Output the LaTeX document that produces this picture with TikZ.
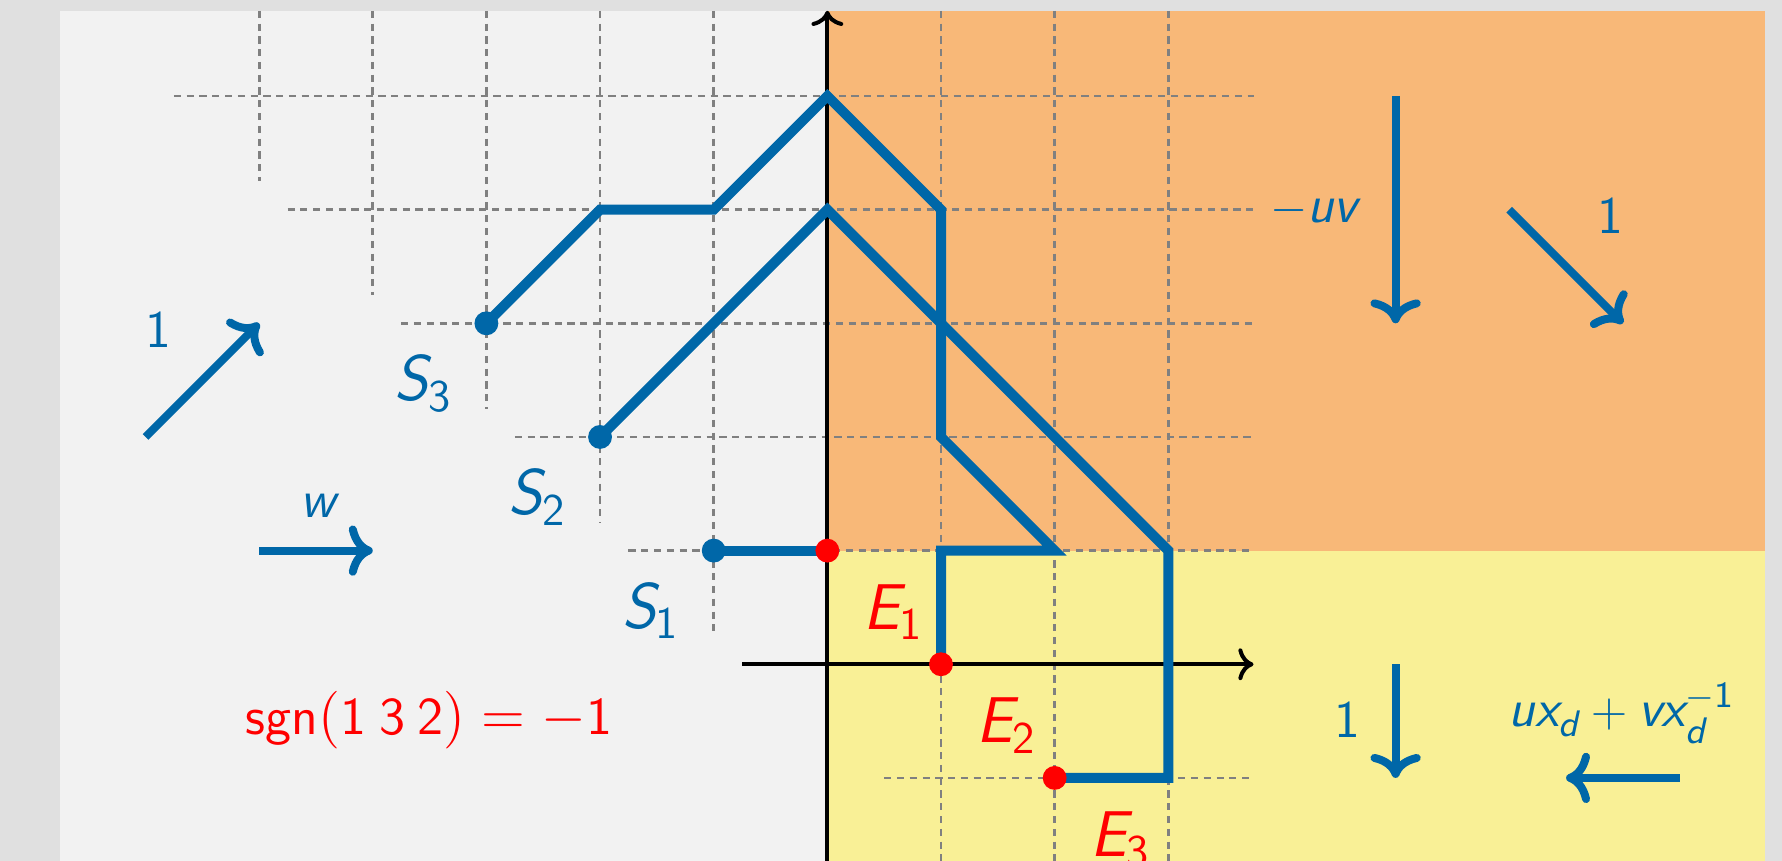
\documentclass[tikz,border=0pt]{standalone}
\usepackage{amsmath}
\usetikzlibrary{arrows.meta}
\definecolor{outerbg}{HTML}{E0E0E0}
\definecolor{panelbg}{HTML}{F2F2F2}
\definecolor{orangebg}{HTML}{F8B878}
\definecolor{yellowbg}{HTML}{F9F096}
\definecolor{pathblue}{HTML}{0067A8}
\definecolor{gridgray}{HTML}{808080}
\newcommand{\vi}[1]{\textsf{\itshape #1}}
\newcommand{\vu}[1]{\textsf{#1}}
\tikzset{
  gridline/.style={gridgray, line width=0.7pt, dash pattern=on 1.8pt off 1.4pt},
  axisline/.style={black, line width=1pt, -{Computer Modern Rightarrow[scale=1.0]}},
  lattice/.style={pathblue, line width=2.5pt, line join=miter},
  legendarrow/.style={pathblue, line width=2pt, -{Computer Modern Rightarrow[scale=1.0]}},
  startdot/.style={circle, fill=pathblue, inner sep=0pt, minimum size=0.21cm},
  enddot/.style={circle, fill=red, inner sep=0pt, minimum size=0.21cm},
  biglabel/.style={text=pathblue, font=\fontsize{16.2}{19}\selectfont, inner sep=0pt},
  redlabel/.style={text=red, font=\fontsize{16.2}{19}\selectfont, inner sep=0pt},
  smalllabel/.style={text=pathblue, font=\fontsize{13.2}{16}\selectfont, inner sep=0pt},
  sgnlabel/.style={text=red, font=\fontsize{13.3}{16}\selectfont, inner sep=0pt},
}
\begin{document}
\begin{tikzpicture}
\useasboundingbox (-7.28,-1.73) rectangle (8.40,5.845);
% backgrounds
\fill[outerbg] (-7.28,-1.73) rectangle (8.40,5.845);
\fill[panelbg] (-6.75,-1.8) rectangle (8.25,5.75);
\fill[orangebg] (0,1) rectangle (8.25,5.75);
\fill[yellowbg] (0,-1.8) rectangle (8.25,1);
% grid
\foreach \k in {1,...,5} \draw[gridline] ({-\k-0.75},\k) -- (3.75,\k);
\draw[gridline] (0.5,-1) -- (3.75,-1);
\foreach \k in {1,...,5} \draw[gridline] (-\k,5.75) -- (-\k,{\k-0.75});
\foreach \k in {1,2,3} \draw[gridline] (\k,5.75) -- (\k,-1.8);
% axes
\coordinate (ybot) at (0,-1.8);
\coordinate (ytop) at (0,5.75);
\coordinate (xl) at (-0.75,0);
\coordinate (xr) at (3.75,0);
\draw[axisline] (ybot) -- (ytop);
\draw[axisline] (xl) -- (xr);
% lattice path points
\coordinate (p1) at (-1,1);
\coordinate (p2) at (-2,2);
\coordinate (p3) at (-3,3);
\coordinate (q1) at (0,1);
\coordinate (q2) at (1,0);
\coordinate (q3) at (2,-1);
\draw[lattice] (p3) -- (-2,4) -- (-1,4) -- (0,5) -- (1,4) -- (1,2) -- (2,1) -- (1,1) -- (q2);
\draw[lattice] (p2) -- (0,4) -- (3,1) -- (3,-1) -- (q3);
\draw[lattice] (p1) -- (q1);
% dots
\node[startdot] (s1) at (p1) {};
\node[startdot] (s2) at (p2) {};
\node[startdot] (s3) at (p3) {};
\node[enddot] (e1) at (q1) {};
\node[enddot] (e2) at (q2) {};
\node[enddot] (e3) at (q3) {};
% path labels
\node[biglabel] (ls1) at (-1.55,0.47) {$\vi{S}_{\vu{1}}$};
\node[biglabel] (ls2) at (-2.55,1.47) {$\vi{S}_{\vu{2}}$};
\node[biglabel] (ls3) at (-3.55,2.47) {$\vi{S}_{\vu{3}}$};
\node[redlabel] (le1) at (0.58,0.46) {$\vi{E}_{\vu{1}}$};
\node[redlabel] (le2) at (1.58,-0.54) {$\vi{E}_{\vu{2}}$};
\node[redlabel] (le3) at (2.58,-1.54) {$\vi{E}_{\vu{3}}$};
% legend arrows
\coordinate (a1s) at (-6,2);   \coordinate (a1e) at (-5,3);
\coordinate (a2s) at (-5,1);   \coordinate (a2e) at (-4,1);
\coordinate (a3s) at (5,5);    \coordinate (a3e) at (5,3);
\coordinate (a4s) at (6,4);    \coordinate (a4e) at (7,3);
\coordinate (a5s) at (5,0);    \coordinate (a5e) at (5,-1);
\coordinate (a6s) at (7.5,-1); \coordinate (a6e) at (6.5,-1);
\draw[legendarrow] (a1s) -- (a1e);
\draw[legendarrow] (a2s) -- (a2e);
\draw[legendarrow] (a3s) -- (a3e);
\draw[legendarrow] (a4s) -- (a4e);
\draw[legendarrow] (a5s) -- (a5e);
\draw[legendarrow] (a6s) -- (a6e);
\node[smalllabel] (w1) at (-5.89,2.94) {$\vu{1}$};
\node[smalllabel] (w2) at (-4.48,1.39) {$\vi{w}$};
\node[smalllabel] (w3) at (4.28,3.99) {$-\vi{uv}$};
\node[smalllabel] (w4) at (6.89,3.95) {$\vu{1}$};
\node[smalllabel] (w5) at (4.58,-0.49) {$\vu{1}$};
\node[smalllabel] (w6) at (6.99,-0.43) {$\vi{ux}_{\vi{d}}+\vi{vx}_{\vi{d}}^{-\vu{1}}$};
\node[sgnlabel] (sg) at (-3.505,-0.49) {$\vu{sgn}(\vu{1}\:\vu{3}\:\vu{2}) = -\vu{1}$};
\end{tikzpicture}
\end{document}
